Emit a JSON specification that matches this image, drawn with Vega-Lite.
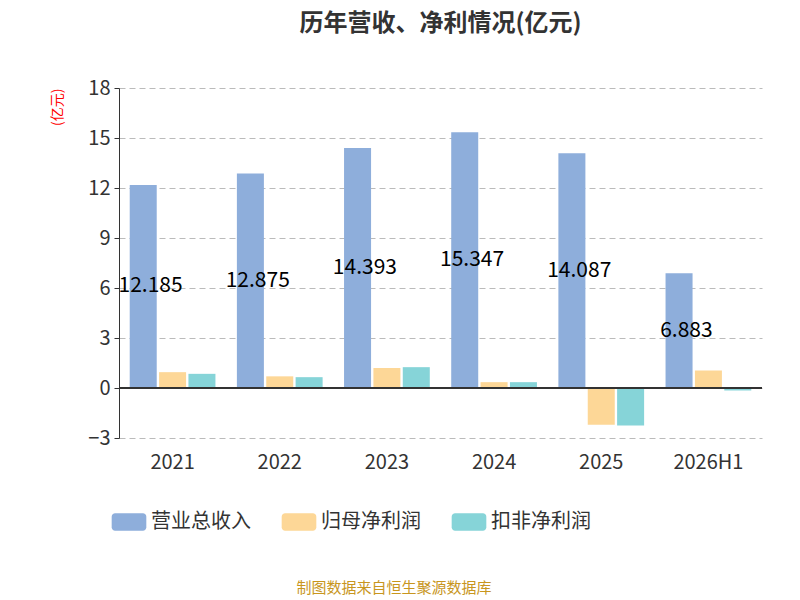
{
  "$schema": "https://vega.github.io/schema/vega-lite/v6.json",
  "width": 643,
  "height": 350,
  "padding": {"left": 50, "top": 12, "right": 30, "bottom": 5},
  "background": "white",
  "title": {"text": "历年营收、净利情况(亿元)", "fontSize": 24, "font": "Noto Sans CJK SC", "fontWeight": "bold", "color": "#333", "offset": 42},
  "config": {
    "font": "Noto Sans CJK SC",
    "view": {"stroke": null},
    "axis": {"labelFont": "Noto Sans CJK SC"}
  },
  "data": {
    "values": [
      {"year": "2021", "series": "营业总收入", "value": 12.185},
      {"year": "2021", "series": "归母净利润", "value": 0.95},
      {"year": "2021", "series": "扣非净利润", "value": 0.85},
      {"year": "2022", "series": "营业总收入", "value": 12.875},
      {"year": "2022", "series": "归母净利润", "value": 0.7},
      {"year": "2022", "series": "扣非净利润", "value": 0.65},
      {"year": "2023", "series": "营业总收入", "value": 14.393},
      {"year": "2023", "series": "归母净利润", "value": 1.2},
      {"year": "2023", "series": "扣非净利润", "value": 1.25},
      {"year": "2024", "series": "营业总收入", "value": 15.347},
      {"year": "2024", "series": "归母净利润", "value": 0.35},
      {"year": "2024", "series": "扣非净利润", "value": 0.35},
      {"year": "2025", "series": "营业总收入", "value": 14.087},
      {"year": "2025", "series": "归母净利润", "value": -2.2},
      {"year": "2025", "series": "扣非净利润", "value": -2.25},
      {"year": "2026H1", "series": "营业总收入", "value": 6.883},
      {"year": "2026H1", "series": "归母净利润", "value": 1.05},
      {"year": "2026H1", "series": "扣非净利润", "value": -0.15}
    ]
  },
  "encoding": {
    "x": {"field": "year", "type": "nominal", "sort": null,
      "scale": {"paddingInner": 0.2, "paddingOuter": 0.1},
      "axis": {"title": null, "labelAngle": 0, "labelFontSize": 20, "labelColor": "#333", "domain": false, "ticks": false, "labelPadding": 14}}
  },
  "layer": [
    {
      "mark": {"type": "bar"},
      "encoding": {
        "xOffset": {"field": "series", "type": "nominal", "sort": ["营业总收入", "归母净利润", "扣非净利润"], "scale": {"paddingInner": 0.08}},
        "y": {"field": "value", "type": "quantitative",
          "scale": {"domain": [-3, 18], "nice": false},
          "axis": {"values": [-3, 0, 3, 6, 9, 12, 15, 18], "title": "(亿元)", "titleColor": "red", "titleFontSize": 14, "titleFontWeight": "normal", "titleAngle": -90, "titleAnchor": "end", "titleX": -55, "titleY": 0, "titleAlign": "right", "labelFontSize": 20, "labelColor": "#333", "gridDash": [6, 4], "gridColor": "#bbb", "domainColor": "#333", "tickColor": "#333", "labelPadding": 4}},
        "color": {"field": "series", "type": "nominal",
          "scale": {"domain": ["营业总收入", "归母净利润", "扣非净利润"], "range": ["#8eaedb", "#fdd797", "#86d4d8"]},
          "legend": {"orient": "bottom", "title": null, "labelFontSize": 20, "labelColor": "#333", "symbolType": "M-1.6,-1 h3.2 a0.4,0.4 0 0 1 0.4,0.4 v1.2 a0.4,0.4 0 0 1 -0.4,0.4 h-3.2 a0.4,0.4 0 0 1 -0.4,-0.4 v-1.2 a0.4,0.4 0 0 1 0.4,-0.4 Z", "symbolSize": 300, "symbolOpacity": 1, "symbolStrokeWidth": 0, "columnPadding": 30, "offset": 40, "labelOffset": 12}}
      }
    },
    {
      "mark": {"type": "rule", "color": "#333", "strokeWidth": 1.5},
      "encoding": {"y": {"datum": 0, "type": "quantitative"}, "x": {"value": 0}, "x2": {"value": 643}}
    },
    {
      "transform": [{"filter": "datum.series == '营业总收入'"}, {"calculate": "datum.value / 2", "as": "mid"}],
      "mark": {"type": "text", "fontSize": 21, "color": "black", "font": "Noto Sans CJK SC", "dx": -22},
      "encoding": {
        "y": {"field": "mid", "type": "quantitative"},
        "text": {"field": "value", "type": "quantitative", "format": ".3~f"}
      }
    },
    {
      "data": {"values": [{"t": "制图数据来自恒生聚源数据库"}]},
      "mark": {"type": "text", "fontSize": 15, "color": "#c8961e"},
      "encoding": {"text": {"field": "t"}, "x": {"value": 275}, "y": {"value": 500}}
    }
  ]
}
